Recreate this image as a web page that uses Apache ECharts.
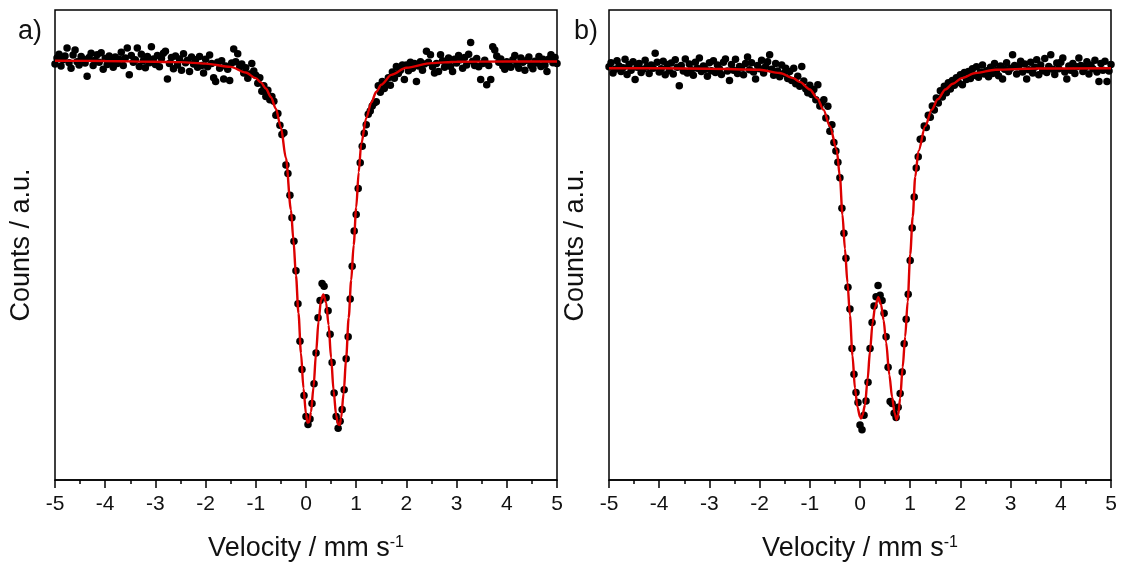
<!DOCTYPE html>
<html>
<head>
<meta charset="utf-8">
<title>Mössbauer spectra</title>
<script src="https://cdn.jsdelivr.net/npm/echarts@6/dist/echarts.min.js"></script>
<style>
  html, body { margin: 0; padding: 0; background: #fff; }
  #chart { width: 1126px; height: 567px; }
</style>
</head>
<body>
<div id="chart"></div>
<script>
// velocity channels (mm/s), same for both spectra
const velocity = [
  -5.00,-4.96,-4.92,-4.88,-4.84,-4.80,-4.76,-4.72,-4.68,-4.64,
  -4.60,-4.56,-4.52,-4.48,-4.44,-4.40,-4.36,-4.32,-4.28,-4.24,
  -4.20,-4.16,-4.12,-4.08,-4.04,-4.00,-3.96,-3.92,-3.88,-3.84,
  -3.80,-3.76,-3.72,-3.68,-3.64,-3.60,-3.56,-3.52,-3.48,-3.44,
  -3.40,-3.36,-3.32,-3.28,-3.24,-3.20,-3.16,-3.12,-3.08,-3.04,
  -3.00,-2.96,-2.92,-2.88,-2.84,-2.80,-2.76,-2.72,-2.68,-2.64,
  -2.60,-2.56,-2.52,-2.48,-2.44,-2.40,-2.36,-2.32,-2.28,-2.24,
  -2.20,-2.16,-2.12,-2.08,-2.04,-2.00,-1.96,-1.92,-1.88,-1.84,
  -1.80,-1.76,-1.72,-1.68,-1.64,-1.60,-1.56,-1.52,-1.48,-1.44,
  -1.40,-1.36,-1.32,-1.28,-1.24,-1.20,-1.16,-1.12,-1.08,-1.04,
  -1.00,-0.96,-0.92,-0.88,-0.84,-0.80,-0.76,-0.72,-0.68,-0.64,
  -0.60,-0.56,-0.52,-0.48,-0.44,-0.40,-0.36,-0.32,-0.28,-0.24,
  -0.20,-0.16,-0.12,-0.08,-0.04,0.00,0.04,0.08,0.12,0.16,
  0.20,0.24,0.28,0.32,0.36,0.40,0.44,0.48,0.52,0.56,
  0.60,0.64,0.68,0.72,0.76,0.80,0.84,0.88,0.92,0.96,
  1.00,1.04,1.08,1.12,1.16,1.20,1.24,1.28,1.32,1.36,
  1.40,1.44,1.48,1.52,1.56,1.60,1.64,1.68,1.72,1.76,
  1.80,1.84,1.88,1.92,1.96,2.00,2.04,2.08,2.12,2.16,
  2.20,2.24,2.28,2.32,2.36,2.40,2.44,2.48,2.52,2.56,
  2.60,2.64,2.68,2.72,2.76,2.80,2.84,2.88,2.92,2.96,
  3.00,3.04,3.08,3.12,3.16,3.20,3.24,3.28,3.32,3.36,
  3.40,3.44,3.48,3.52,3.56,3.60,3.64,3.68,3.72,3.76,
  3.80,3.84,3.88,3.92,3.96,4.00,4.04,4.08,4.12,4.16,
  4.20,4.24,4.28,4.32,4.36,4.40,4.44,4.48,4.52,4.56,
  4.60,4.64,4.68,4.72,4.76,4.80,4.84,4.88,4.92,4.96,5.00
];

// a) measured counts (arbitrary units)
const countsA = [
  88.5,89.8,90.6,88.1,89.4,90.2,91.9,88.8,87.6,90.4,
  91.5,89.0,88.3,90.1,89.6,88.7,85.9,89.9,90.8,88.2,
  89.3,90.5,88.9,90.9,87.4,89.7,88.4,90.2,89.1,87.8,
  90.0,88.6,89.5,91.0,88.2,89.8,91.9,86.2,90.3,88.9,
  89.4,91.9,88.0,90.6,89.2,87.7,90.1,88.8,92.2,89.6,
  88.4,90.3,87.9,89.7,90.8,91.2,85.3,88.6,89.9,87.5,
  90.2,88.3,89.6,87.2,90.7,88.8,89.3,86.9,90.0,88.5,
  89.4,87.8,90.1,88.2,86.6,89.5,87.9,90.4,88.6,85.6,
  84.8,88.9,87.6,89.2,85.3,88.1,87.4,85.0,88.7,91.7,
  89.0,90.7,87.9,88.5,86.6,87.7,85.5,86.4,88.6,87.0,
  86.1,84.4,85.6,82.7,83.9,81.6,82.9,80.9,81.6,80.6,
  77.6,78.0,75.5,73.5,73.9,67.0,65.2,60.6,55.8,50.8,
  44.5,37.5,29.5,23.5,18.0,13.5,11.8,13.0,16.3,20.5,
  27.0,34.5,38.2,41.8,41.2,38.8,36.0,31.0,25.0,18.5,
  13.5,11.0,12.5,15.0,19.2,25.8,30.5,38.5,45.5,53.0,
  56.5,62.0,67.5,71.0,73.8,75.6,77.8,78.5,79.6,80.2,
  80.5,83.9,82.5,84.8,83.3,84.2,85.6,84.0,86.8,85.5,
  88.0,86.5,87.2,88.3,85.2,88.3,87.1,88.9,87.6,88.6,
  84.8,88.1,89.0,87.2,88.5,91.2,88.9,90.5,87.9,86.6,
  88.6,86.9,90.5,89.2,87.8,88.4,89.8,88.0,86.9,89.5,
  88.7,90.3,89.4,87.6,89.9,88.3,90.6,93.1,89.1,88.2,
  89.7,87.9,85.2,88.6,89.3,84.1,88.2,85.2,92.2,91.5,
  90.2,88.9,89.6,88.1,87.4,89.0,88.5,87.8,89.4,90.3,
  88.4,87.6,89.8,88.9,87.2,89.3,90.0,88.2,87.5,89.1,
  88.7,90.1,88.0,89.5,88.3,86.9,89.6,90.5,88.8,89.9,88.6
];

// b) measured counts (arbitrary units)
const countsB = [
  87.9,88.8,86.6,87.4,89.2,88.1,86.9,87.7,89.5,86.3,
  88.4,87.2,89.0,85.2,87.8,88.6,86.7,87.4,89.3,88.0,
  86.5,88.3,87.6,90.8,88.9,86.8,87.5,89.1,86.2,88.4,
  87.1,88.7,86.4,89.4,87.8,83.9,88.2,87.0,89.6,86.6,
  88.5,87.3,86.1,88.9,87.6,89.8,86.9,88.1,87.4,85.9,
  88.8,87.1,89.2,86.7,88.3,87.5,86.3,88.9,89.6,87.0,
  85.0,88.4,87.2,89.5,86.5,88.0,87.7,86.2,88.6,90.0,
  87.3,88.8,86.8,85.3,88.2,87.5,89.3,86.6,88.0,89.0,
  90.5,87.4,86.1,88.6,87.0,85.8,88.3,86.5,87.6,85.4,
  86.9,85.0,87.6,84.3,85.9,83.8,88.0,84.9,83.2,82.4,
  84.0,82.0,83.1,80.9,84.1,79.6,80.3,80.9,77.0,79.5,
  74.2,75.6,71.8,70.0,67.6,64.3,57.8,52.5,47.2,41.0,
  36.4,28.0,22.5,18.6,16.5,11.7,10.7,13.8,16.8,20.8,
  28.0,33.5,37.0,39.0,41.4,39.3,38.2,35.5,30.5,24.0,
  16.7,16.3,14.2,13.3,15.5,18.4,23.0,29.0,34.2,39.5,
  46.7,53.6,60.2,66.4,68.8,72.5,72.6,75.3,75.0,77.6,
  77.2,79.6,78.7,81.3,80.2,82.8,81.5,83.8,82.4,84.5,
  83.2,85.0,84.0,85.6,84.6,86.2,84.1,86.7,85.2,86.9,
  85.4,87.5,86.1,87.9,85.7,86.8,88.3,86.4,87.1,85.8,
  87.8,86.5,88.6,87.2,86.0,88.1,85.3,87.4,88.8,86.9,
  87.6,90.5,88.2,86.4,87.9,89.1,86.8,88.5,85.3,87.3,
  88.9,86.6,87.8,89.4,86.2,88.3,87.1,89.7,86.7,88.0,
  90.5,87.4,86.3,88.7,87.5,88.9,89.8,86.8,85.3,88.1,
  87.2,88.6,86.5,87.9,89.8,88.2,86.9,87.7,89.0,86.4,
  88.3,87.5,89.3,86.8,84.8,88.6,87.2,89.1,84.8,87.0,88.4
];

// fitted curves
const fitVelA = [-5,-4,-3,-2.5,-2,-1.5,-1.2,-1,-0.9,-0.8,-0.7,-0.6,-0.5,-0.4,-0.3,-0.25,-0.2,-0.15,-0.1,-0.05,
  0,0.03,0.06,0.1,0.15,0.2,0.25,0.3,0.345,0.4,0.45,0.5,0.55,0.6,0.64,0.67,0.7,0.75,0.8,0.85,
  0.9,0.95,1,1.05,1.1,1.2,1.3,1.4,1.5,1.7,2,2.5,3,4,5];
const fitA = [89.2,89.15,89.0,88.9,88.6,87.9,86.7,85.5,84.6,83.3,81.5,79.0,75.0,68.5,57.5,51.0,43.5,35.5,27.0,19.5,
  14.0,12.2,12.3,14.5,19.8,27.0,33.8,38.3,39.5,37.8,33.0,26.0,19.0,13.8,11.8,11.7,13.2,18.5,26.0,34.5,
  42.5,50.0,58.0,65.5,71.5,77.0,80.3,82.6,84.1,86.2,87.7,88.7,89.0,89.05,89.05];

const fitVelB = [-5,-4,-3,-2,-1.6,-1.33,-1.2,-1,-0.85,-0.73,-0.6,-0.465,-0.4,-0.35,-0.3,-0.25,-0.2,-0.15,-0.1,-0.05,
  0,0.02,0.05,0.1,0.15,0.2,0.25,0.3,0.365,0.42,0.47,0.52,0.585,0.64,0.69,0.73,0.76,0.8,0.85,0.9,
  0.95,1,1.05,1.1,1.165,1.3,1.43,1.55,1.7,1.85,2.03,2.3,2.7,3.5,5];
const fitB = [87.6,87.6,87.5,87.3,86.6,85.5,84.7,83.1,81.2,78.8,75.3,70.3,64.5,56.5,49.2,42.0,35.0,26.5,19.5,15.5,
  13.4,13.1,13.8,16.0,21.3,27.5,33.4,36.8,38.9,37.3,34.0,29.3,22.3,17.6,14.2,12.8,13.8,17.4,24.0,30.5,
  38.0,48.0,56.0,64.5,70.0,75.3,78.8,81.0,83.1,84.3,85.5,86.6,87.3,87.55,87.6];

const panelLabels = ['a)', 'b)'];

const FONT = '"Liberation Sans", Arial, sans-serif';
const chart = echarts.init(document.getElementById('chart'));

function pairs(xs, ys) {
  return xs.map((x, i) => [x, ys[i]]);
}

function makeX(idx) {
  return {
    gridIndex: idx,
    type: 'value',
    min: -5,
    max: 5,
    interval: 1,
    name: 'Velocity / mm s{sup|-1}',
    nameLocation: 'middle',
    nameGap: 55,
    nameTextStyle: {
      fontSize: 27, color: '#111', fontFamily: FONT,
      rich: { sup: { fontSize: 16, color: '#111', fontFamily: FONT, verticalAlign: 'top' } }
    },
    axisLine: { lineStyle: { color: '#000', width: 1.5 } },
    axisTick: { length: 8, lineStyle: { color: '#000', width: 1.5 } },
    minorTick: { show: true, splitNumber: 2, length: 4, lineStyle: { color: '#000', width: 1.5 } },
    splitLine: { show: false },
    minorSplitLine: { show: false },
    axisLabel: { fontSize: 21, color: '#111', fontFamily: FONT, margin: 14 }
  };
}

function makeY(idx) {
  return {
    gridIndex: idx,
    type: 'value',
    min: 0,
    max: 100,
    name: 'Counts / a.u.',
    nameLocation: 'middle',
    nameGap: 20,
    nameTextStyle: { fontSize: 27, color: '#111', fontFamily: FONT },
    axisLine: { show: false },
    axisTick: { show: false },
    axisLabel: { show: false },
    splitLine: { show: false }
  };
}

const option = {
  backgroundColor: '#fff',
  animation: false,
  grid: [
    { left: 55, top: 10, width: 502, height: 472, show: true, borderColor: '#000', borderWidth: 1.5 },
    { left: 609, top: 10, width: 502, height: 472, show: true, borderColor: '#000', borderWidth: 1.5 }
  ],
  graphic: [
    { type: 'text', left: 18, top: 18, style: { text: panelLabels[0], fill: '#111', font: '27px ' + FONT } },
    { type: 'text', left: 574, top: 18, style: { text: panelLabels[1], fill: '#111', font: '27px ' + FONT } }
  ],
  xAxis: [makeX(0), makeX(1)],
  yAxis: [makeY(0), makeY(1)],
  series: [
    {
      type: 'scatter', xAxisIndex: 0, yAxisIndex: 0,
      data: pairs(velocity, countsA),
      symbolSize: 7.5, itemStyle: { color: '#000', opacity: 1 }, z: 2
    },
    {
      type: 'line', xAxisIndex: 0, yAxisIndex: 0,
      data: pairs(fitVelA, fitA),
      showSymbol: false, smooth: 0.3, smoothMonotone: 'x',
      lineStyle: { color: '#dd0000', width: 2.4 }, z: 3
    },
    {
      type: 'scatter', xAxisIndex: 1, yAxisIndex: 1,
      data: pairs(velocity, countsB),
      symbolSize: 7.5, itemStyle: { color: '#000', opacity: 1 }, z: 2
    },
    {
      type: 'line', xAxisIndex: 1, yAxisIndex: 1,
      data: pairs(fitVelB, fitB),
      showSymbol: false, smooth: 0.3, smoothMonotone: 'x',
      lineStyle: { color: '#dd0000', width: 2.4 }, z: 3
    }
  ]
};

chart.setOption(option);
</script>
</body>
</html>
